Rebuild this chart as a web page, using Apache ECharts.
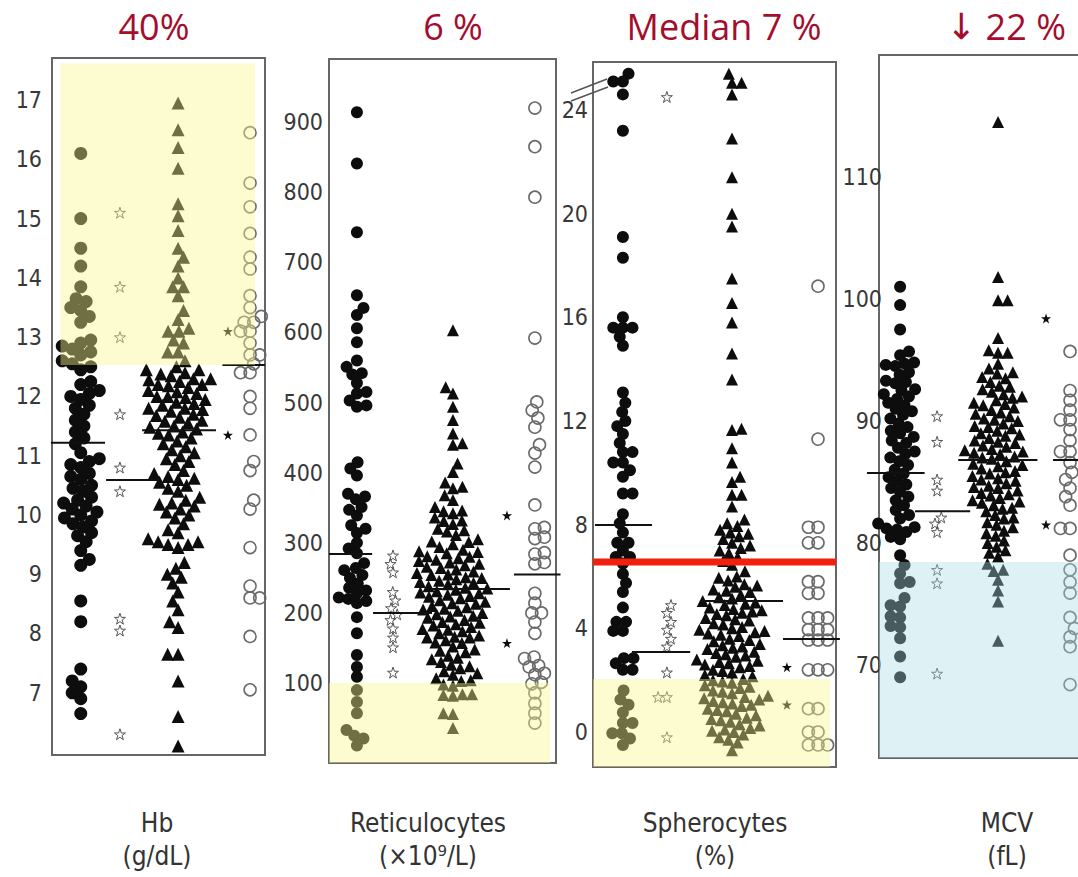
<!DOCTYPE html>
<html><head><meta charset="utf-8">
<script src="https://cdn.jsdelivr.net/npm/echarts@6/dist/echarts.min.js"></script>
<style>html,body{margin:0;padding:0;background:#fff}#c{width:1078px;height:877px}</style>
</head><body><div id="c"></div>
<script>
// ---------------- DATA ----------------
const groupNames = ['Filled circle', 'Open star', 'Triangle', 'Open circle', 'Filled star'];

// Hb (g/dL)
const hbCircle = [16.1, 15.0, 14.5, 14.2, 13.85, 13.65, 13.6, 13.5, 13.45, 13.35, 13.25, 12.95, 12.9, 12.85, 12.8, 12.75, 12.7, 12.6, 12.55, 12.5, 12.45, 12.25, 12.2, 12.1, 12.05, 12.0, 11.95, 11.85, 11.8, 11.7, 11.6, 11.5, 11.4, 11.3, 11.2, 11.05, 10.95, 10.9, 10.85, 10.8, 10.7, 10.65, 10.6, 10.5, 10.45, 10.4, 10.3, 10.25, 10.2, 10.15, 10.1, 10.05, 10.0, 9.95, 9.9, 9.85, 9.8, 9.7, 9.65, 9.55, 9.4, 9.25, 9.15, 8.55, 8.2, 7.4, 7.2, 7.1, 7.0, 6.9, 6.65];
const hbStar = [15.1, 13.85, 13.0, 11.7, 10.8, 10.4, 8.25, 8.05, 6.3];
const hbTri = [16.95, 16.5, 16.2, 15.85, 15.25, 15.05, 14.8, 14.5, 14.35, 14.2, 14.0, 13.85, 13.85, 13.7, 13.45, 13.3, 13.15, 13.1, 13.1, 12.95, 12.9, 12.75, 12.75, 12.6, 12.5, 12.45, 12.45, 12.4, 12.38, 12.35, 12.3, 12.3, 12.28, 12.25, 12.2, 12.2, 12.18, 12.15, 12.1, 12.08, 12.05, 12.0, 12.0, 11.98, 11.95, 11.9, 11.88, 11.85, 11.8, 11.8, 11.78, 11.75, 11.7, 11.68, 11.65, 11.6, 11.58, 11.55, 11.5, 11.48, 11.45, 11.4, 11.38, 11.35, 11.3, 11.25, 11.2, 11.15, 11.1, 11.05, 11.0, 10.95, 10.9, 10.85, 10.75, 10.7, 10.65, 10.62, 10.6, 10.55, 10.5, 10.45, 10.4, 10.3, 10.25, 10.2, 10.18, 10.15, 10.1, 10.05, 10.0, 9.95, 9.85, 9.75, 9.7, 9.6, 9.55, 9.55, 9.5, 9.5, 9.45, 9.2, 9.1, 9.0, 8.95, 8.85, 8.7, 8.55, 8.4, 8.2, 8.1, 7.65, 7.65, 7.2, 6.6, 6.1];
const hbOpen = [16.45, 15.6, 15.2, 14.75, 14.35, 14.15, 13.7, 13.5, 13.35, 13.25, 13.25, 13.1, 13.1, 12.9, 12.7, 12.7, 12.55, 12.4, 12.4, 12.0, 11.8, 11.35, 10.9, 10.75, 10.25, 10.1, 9.45, 8.8, 8.6, 8.6, 7.95, 7.05];
const hbFilledStar = [13.1, 11.35];
const hbMedians = [11.22, 10.59, 11.43, 12.53];
const hbTicks = [7, 8, 9, 10, 11, 12, 13, 14, 15, 16, 17];
const hbShadeLimit = 12.53;   // shaded above

// Reticulocytes (x10^9/L)
const reCircle = [914, 841, 743, 653, 635, 625, 606, 586, 560, 551, 542, 540, 528, 515, 513, 503, 496, 494, 415, 406, 396, 370, 366, 362, 351, 347, 339, 325, 320, 314, 300, 292, 285, 271, 264, 261, 254, 250, 242, 236, 232, 228, 222, 220, 217, 214, 194, 171, 140, 123, 109, 90, 73, 57, 33, 25, 21, 11];
const reStar = [282, 270, 258, 230, 218, 207, 198, 190, 178, 165, 151, 115];
const reTri = [603, 522, 513, 494, 475, 456, 442, 440, 413, 401, 386, 380, 378, 368, 361, 351, 346, 345, 342, 336, 332, 331, 327, 320, 318, 316, 311, 305, 302, 301, 298, 294, 290, 288, 287, 285, 281, 280, 278, 276, 274, 272, 270, 268, 266, 264, 262, 259, 257, 255, 254, 251, 250, 248, 246, 244, 243, 241, 238, 236, 235, 233, 231, 229, 228, 226, 224, 223, 221, 218, 216, 214, 213, 210, 208, 206, 205, 203, 200, 198, 196, 195, 193, 190, 187, 186, 184, 182, 180, 177, 176, 174, 171, 168, 166, 165, 165, 161, 158, 157, 152, 148, 146, 144, 139, 136, 134, 130, 126, 124, 121, 117, 114, 112, 107, 104, 103, 98, 96, 84, 84, 83, 82, 57, 56, 36];
const reOpen = [920, 865, 793, 592, 501, 489, 478, 465, 440, 428, 408, 354, 322, 320, 308, 306, 286, 284, 272, 270, 228, 214, 200, 200, 187, 171, 137, 135, 125, 123, 114, 112, 101, 99, 86, 71, 57, 43];
const reFilledStar = [339, 157];
const reMedians = [284, 200, 234, 255];
const reTicks = [100, 200, 300, 400, 500, 600, 700, 800, 900];
const reShadeLimit = 100;     // shaded below

// Spherocytes (%)
const spCircle = [25.4, 25.1, 25.1, 24.6, 23.2, 19.1, 18.3, 16.0, 15.6, 15.6, 15.6, 15.25, 14.9, 13.1, 12.7, 12.35, 12.0, 11.8, 11.5, 11.15, 10.8, 10.8, 10.4, 10.4, 10.1, 9.85, 9.2, 9.2, 8.4, 8.05, 7.7, 7.3, 7.3, 7.0, 6.75, 6.75, 6.5, 6.1, 5.75, 5.4, 4.8, 4.25, 4.25, 3.9, 3.9, 2.85, 2.85, 2.65, 2.4, 2.4, 1.6, 1.25, 1.05, 0.75, 0.35, 0.35, -0.05, -0.05, -0.25, -0.5];
const spStar = [24.5, 4.9, 4.6, 4.25, 3.95, 3.6, 3.3, 2.3, 1.35, 1.35, -0.2];
const spTri = [25.4, 25.05, 25.05, 24.6, 22.9, 21.4, 20.0, 19.5, 17.5, 16.55, 15.8, 14.6, 13.6, 11.7, 11.65, 10.95, 10.4, 9.85, 9.65, 9.15, 9.15, 8.7, 8.2, 8.05, 7.95, 7.8, 7.7, 7.65, 7.55, 7.45, 7.3, 7.2, 7.1, 7.0, 6.9, 6.75, 6.6, 6.45, 6.2, 6.0, 5.95, 5.85, 5.7, 5.65, 5.6, 5.5, 5.45, 5.4, 5.3, 5.2, 5.15, 5.05, 5.0, 4.95, 4.9, 4.8, 4.75, 4.7, 4.65, 4.6, 4.55, 4.5, 4.4, 4.35, 4.3, 4.2, 4.15, 4.05, 4.0, 3.95, 3.9, 3.85, 3.8, 3.75, 3.7, 3.6, 3.55, 3.5, 3.4, 3.35, 3.3, 3.25, 3.2, 3.1, 3.05, 3.0, 2.95, 2.9, 2.8, 2.75, 2.7, 2.65, 2.6, 2.55, 2.5, 2.4, 2.35, 2.3, 2.2, 2.15, 2.05, 2.0, 1.95, 1.9, 1.8, 1.75, 1.7, 1.6, 1.55, 1.5, 1.4, 1.35, 1.3, 1.25, 1.2, 1.15, 1.1, 1.05, 1.0, 0.9, 0.85, 0.8, 0.7, 0.65, 0.55, 0.5, 0.45, 0.4, 0.3, 0.25, 0.15, 0.1, 0.05, 0.0, -0.1, -0.2, -0.3, -0.4, -0.7];
const spOpen = [17.2, 11.3, 7.9, 7.9, 7.3, 7.3, 5.8, 5.8, 5.35, 5.35, 4.4, 4.4, 4.4, 3.95, 3.95, 3.95, 3.55, 3.55, 3.55, 2.4, 2.4, 2.4, 0.9, 0.9, 0.0, 0.0, -0.5, -0.5, -0.5];
const spFilledStar = [2.5, 1.05];
const spMedians = [7.99, 3.09, 5.05, 3.59];
const spRedLine = 6.56;
const spTicks = [0, 4, 8, 12, 16, 20, 24];
const spShadeLimit = 2.05;    // shaded below

// MCV (fL)
const mcCircle = [101.0, 99.5, 97.5, 95.7, 95.4, 94.8, 94.7, 94.6, 94.5, 94.0, 93.8, 93.3, 93.2, 93.1, 92.6, 92.5, 92.2, 92.0, 91.8, 91.5, 91.3, 91.0, 90.8, 90.5, 90.2, 89.8, 89.5, 89.2, 89.0, 88.7, 88.4, 88.2, 87.8, 87.5, 87.3, 87.0, 86.7, 86.4, 86.0, 85.7, 85.4, 85.1, 84.8, 84.5, 84.2, 83.8, 83.5, 83.1, 82.7, 82.3, 82.0, 81.6, 81.3, 81.2, 81.1, 80.9, 80.5, 80.3, 79.0, 78.2, 77.5, 76.8, 76.7, 75.5, 74.9, 74.8, 74.0, 73.9, 73.2, 73.1, 72.2, 70.7, 69.0];
const mcStar = [90.4, 88.3, 85.2, 84.3, 82.1, 81.6, 80.9, 77.8, 76.7, 69.3];
const mcTri = [114.5, 101.8, 99.9, 99.9, 96.8, 95.8, 95.6, 95.6, 94.7, 94.3, 94.0, 93.9, 93.6, 93.5, 93.2, 92.9, 92.8, 92.6, 92.4, 92.2, 92.0, 91.9, 91.7, 91.5, 91.4, 91.3, 91.1, 90.9, 90.7, 90.6, 90.4, 90.2, 90.1, 90.0, 89.8, 89.6, 89.5, 89.4, 89.2, 89.0, 88.9, 88.8, 88.6, 88.4, 88.3, 88.2, 88.0, 87.9, 87.7, 87.6, 87.5, 87.4, 87.3, 87.1, 87.0, 86.9, 86.7, 86.5, 86.4, 86.3, 86.1, 85.9, 85.8, 85.7, 85.5, 85.3, 85.2, 85.1, 84.9, 84.7, 84.6, 84.5, 84.3, 84.1, 84.0, 83.9, 83.7, 83.5, 83.4, 83.3, 83.1, 82.9, 82.8, 82.6, 82.3, 82.1, 82.0, 81.7, 81.5, 81.3, 81.0, 80.8, 80.6, 80.2, 80.0, 79.7, 79.4, 79.2, 78.9, 78.3, 77.8, 77.7, 77.0, 76.1, 75.2, 72.0];
const mcOpen = [95.7, 92.5, 91.7, 90.9, 90.1, 90.1, 89.3, 88.4, 87.5, 87.5, 86.6, 85.8, 85.2, 84.5, 83.8, 83.1, 81.2, 81.2, 79.0, 77.8, 76.8, 75.9, 73.9, 73.0, 72.3, 71.5, 68.4];
const mcFilledStar = [98.4, 81.5];
const mcMedians = [85.74, 82.6, 86.8, 86.8];
const mcTicks = [70, 80, 90, 100, 110];
const mcShadeLimit = 78.44;   // shaded below

const topTitles = ['40%', '6 %', 'Median 7 %', '{a|\u2193} 22 %'];
const axisTitles = ['Hb\n(g/dL)', 'Reticulocytes\n(\u00d710\u2079/L)', 'Spherocytes\n(%)', 'MCV\n(fL)'];

// ---------------- LAYOUT ----------------
const panels = [
  { groups: [hbCircle, hbStar, hbTri, hbOpen, hbFilledStar], medians: hbMedians, ticks: hbTicks,
    left: 52, top: 58, width: 213, height: 697, min: 5.95, max: 17.71, labelMargin: 10,
    cols: [0.135, 0.319, 0.592, 0.93, 0.826], medX: [[-0.005, 0.249], [0.254, 0.498], [0.423, 0.77], [0.80, 1.0]],
    shade: { x: [0.04, 0.953], y: [hbShadeLimit, 17.62], color: 'rgba(250,247,145,0.42)' },
    sizes: [13, 11, 13, 12, 10], titleX: 154, labelX: 157 },
  { groups: [reCircle, reStar, reTri, reOpen, reFilledStar], medians: reMedians, ticks: reTicks,
    left: 329, top: 59, width: 227, height: 704, min: -14, max: 990, labelMargin: 6,
    cols: [0.123, 0.282, 0.546, 0.907, 0.784], medX: [[0, 0.19], [0.194, 0.454], [0.44, 0.797], [0.815, 1.02]],
    shade: { x: [0, 0.974], y: [-14, reShadeLimit], color: 'rgba(250,247,145,0.42)' },
    sizes: [12, 11, 12, 12, 10], titleX: 453, labelX: 428 },
  { groups: [spCircle, spStar, spTri, spOpen, spFilledStar], medians: spMedians, ticks: spTicks,
    left: 593, top: 62, width: 243, height: 705, min: -1.35, max: 25.85, labelMargin: 5,
    cols: [0.123, 0.304, 0.572, 0.926, 0.798], medX: [[0.008, 0.243], [0.16, 0.40], [0.44, 0.782], [0.782, 1.016]],
    shade: { x: [0, 0.975], y: [-1.35, spShadeLimit], color: 'rgba(250,247,145,0.42)' },
    sizes: [12, 11, 12, 12, 10], titleX: 724, labelX: 715 },
  { groups: [mcCircle, mcStar, mcTri, mcOpen, mcFilledStar], medians: mcMedians, ticks: mcTicks,
    left: 879, top: 55, width: 240, height: 703, min: 62.38, max: 120, labelMargin: -3,
    cols: [0.088, 0.242, 0.496, 0.796, 0.696], medX: [[-0.05, 0.19], [0.15, 0.38], [0.33, 0.66], [0.725, 1.0]],
    shade: { x: [0, 1], y: [62.38, mcShadeLimit], color: 'rgba(168,218,228,0.38)' },
    sizes: [12, 11, 12, 12, 10], titleX: 1006, labelX: 1007 }
];

const STAR = 'path://M50,2 L61.8,36.3 L97.6,36.3 L68.6,57.5 L79.6,91.8 L50,70.6 L20.4,91.8 L31.4,57.5 L2.4,36.3 L38.2,36.3 Z';
const groupStyle = [
  { symbol: 'circle', itemStyle: { color: '#0d0d0d', opacity: 1 } },
  { symbol: STAR, itemStyle: { color: 'rgba(0,0,0,0)', borderColor: '#555', borderWidth: 1, opacity: 1 } },
  { symbol: 'triangle', itemStyle: { color: '#0d0d0d', opacity: 1 } },
  { symbol: 'circle', itemStyle: { color: 'rgba(0,0,0,0)', borderColor: '#6a6a6a', borderWidth: 1.6, opacity: 1 } },
  { symbol: STAR, itemStyle: { color: '#0d0d0d', opacity: 1 } }
];

// beeswarm layout: horizontal offsets (px) so markers do not overlap
function swarm(values, pxPerUnit, D) {
  const order = values.map((v, i) => i).sort((a, b) => values[a] - values[b]);
  const placed = [];
  const out = new Array(values.length).fill(0);
  order.forEach((i, k) => {
    const y = values[i] * pxPerUnit;
    const near = placed.filter(p => Math.abs(p.y - y) < D);
    const cands = [0];
    near.forEach(p => {
      const dx = Math.sqrt(Math.max(0, D * D - (p.y - y) * (p.y - y)));
      cands.push(p.x + dx, p.x - dx);
    });
    const sgn = (k % 2) ? 1 : -1;
    cands.sort((a, b) => (Math.abs(a) - Math.abs(b)) || (sgn * (b - a)));
    let x = 0;
    for (const c of cands) {
      if (near.every(p => (p.x - c) * (p.x - c) + (p.y - y) * (p.y - y) >= D * D - 1e-6)) { x = c; break; }
    }
    placed.push({ x, y });
    out[i] = x;
  });
  return out;
}

const grids = [], xAxes = [], yAxes = [], series = [], titles = [];
const FONT_AX = 'DejaVu Sans Condensed';

panels.forEach((p, pi) => {
  grids.push({ left: p.left, top: p.top, width: p.width, height: p.height, show: true,
    outerBoundsMode: 'none', containLabel: false,
    borderColor: '#666', borderWidth: 2, backgroundColor: 'transparent' });
  xAxes.push({ type: 'value', gridIndex: pi, min: 0, max: 1, show: false });
  yAxes.push({ type: 'value', gridIndex: pi, min: p.min, max: p.max,
    axisLine: { show: false }, axisTick: { show: false }, splitLine: { show: false },
    axisLabel: { customValues: p.ticks, margin: p.labelMargin, fontFamily: FONT_AX, fontSize: 23, color: '#383838' } });

  const pxPerUnit = p.height / (p.max - p.min);
  p.groups.forEach((vals, gi) => {
    const size = p.sizes[gi];
    const offs = swarm(vals, pxPerUnit, size * 0.8);
    series.push(Object.assign({
      type: 'scatter', name: groupNames[gi], xAxisIndex: pi, yAxisIndex: pi, symbolSize: size, clip: false, z: 3,
      data: vals.map((v, i) => [p.cols[gi] + offs[i] / p.width, v])
    }, groupStyle[gi]));
  });

  // median lines
  series.push({
    type: 'custom', xAxisIndex: pi, yAxisIndex: pi, z: 4, silent: true,
    data: p.medians.map((m, i) => [p.medX[i][0], p.medX[i][1], m]),
    encode: { x: [0, 1], y: 2 },
    renderItem: (params, api) => {
      const a = api.coord([api.value(0), api.value(2)]);
      const b = api.coord([api.value(1), api.value(2)]);
      return { type: 'line', shape: { x1: a[0], y1: a[1], x2: b[0], y2: b[1] }, style: { stroke: '#111', lineWidth: 2 } };
    }
  });

  // shaded reference range (translucent overlay)
  series.push({
    type: 'custom', xAxisIndex: pi, yAxisIndex: pi, z: 5, silent: true,
    data: [[p.shade.x[0], p.shade.y[0], p.shade.x[1], p.shade.y[1]]],
    encode: { x: [0, 2], y: [1, 3] },
    renderItem: ((color) => (params, api) => {
      const a = api.coord([api.value(0), api.value(3)]);
      const b = api.coord([api.value(2), api.value(1)]);
      return { type: 'rect', shape: { x: a[0], y: a[1], width: b[0] - a[0], height: b[1] - a[1] }, style: { fill: color } };
    })(p.shade.color)
  });

  titles.push({ text: topTitles[pi], left: p.titleX, top: 8, textAlign: 'center', padding: 0,
    textStyle: { fontFamily: 'Open Sans', fontSize: 36, fontWeight: 'normal', color: '#a50d2d',
      rich: { a: { fontFamily: 'DejaVu Sans', fontSize: 36, fontWeight: 'normal', color: '#a50d2d' } } } });
  titles.push({ text: axisTitles[pi], left: p.labelX, top: 806, textAlign: 'center', padding: 0,
    textStyle: { fontFamily: FONT_AX, fontSize: 26, fontWeight: 'normal', color: '#333', lineHeight: 33 } });
});

// red threshold line in spherocytes panel
series.push({
  type: 'custom', xAxisIndex: 2, yAxisIndex: 2, z: 6, silent: true,
  data: [[0, 1, spRedLine]], encode: { x: [0, 1], y: 2 },
  renderItem: (params, api) => {
    const a = api.coord([api.value(0), api.value(2)]);
    const b = api.coord([api.value(1), api.value(2)]);
    return { type: 'line', shape: { x1: a[0], y1: a[1], x2: b[0], y2: b[1] }, style: { stroke: '#f2200f', lineWidth: 7 } };
  }
});

const chart = echarts.init(document.getElementById('c'), null, { renderer: 'svg' });
chart.setOption({
  animation: false,
  backgroundColor: '#fff',
  title: titles,
  grid: grids, xAxis: xAxes, yAxis: yAxes, series: series,
  graphic: [
    { type: 'line', shape: { x1: 571, y1: 93, x2: 607, y2: 79 }, style: { stroke: '#555', lineWidth: 1.5 }, z: 10 },
    { type: 'line', shape: { x1: 571, y1: 101, x2: 608, y2: 87 }, style: { stroke: '#555', lineWidth: 1.5 }, z: 10 }
  ]
});
</script></body></html>
